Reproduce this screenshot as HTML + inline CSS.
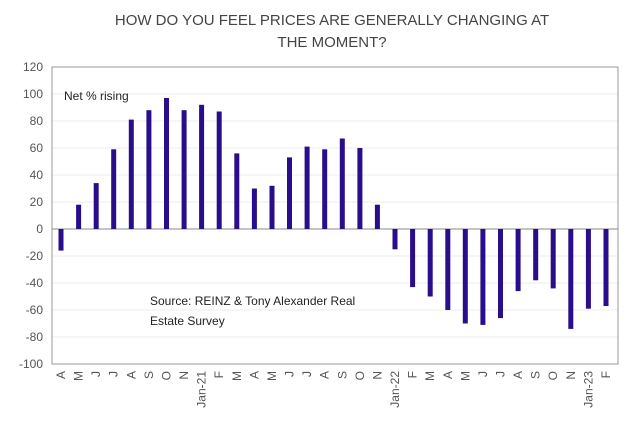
<!DOCTYPE html><html><head><style>body{margin:0;background:#fff}</style></head><body>
<svg width="641" height="427" xmlns="http://www.w3.org/2000/svg" font-family="Liberation Sans, sans-serif">
<rect x="0" y="0" width="641" height="427" fill="#fff"/>
<text x="332" y="25" font-size="15" fill="#444" text-anchor="middle">HOW DO YOU FEEL PRICES ARE GENERALLY CHANGING AT</text>
<text x="332" y="47" font-size="15" fill="#444" text-anchor="middle">THE MOMENT?</text>
<g stroke="#eee" stroke-width="1">
<line x1="52" x2="618" y1="94" y2="94"/><line x1="52" x2="618" y1="121" y2="121"/><line x1="52" x2="618" y1="148" y2="148"/><line x1="52" x2="618" y1="175" y2="175"/><line x1="52" x2="618" y1="202" y2="202"/><line x1="52" x2="618" y1="256" y2="256"/><line x1="52" x2="618" y1="283" y2="283"/><line x1="52" x2="618" y1="310" y2="310"/><line x1="52" x2="618" y1="337" y2="337"/>
</g>
<rect x="52" y="67" width="566" height="297" fill="none" stroke="#999"/>
<line x1="52" x2="618" y1="229" y2="229" stroke="#888"/>
<g font-size="12" fill="#555" text-anchor="end">
<text x="43" y="71">120</text><text x="43" y="98">100</text><text x="43" y="125">80</text><text x="43" y="152">60</text><text x="43" y="179">40</text><text x="43" y="206">20</text><text x="43" y="233">0</text><text x="43" y="260">-20</text><text x="43" y="287">-40</text><text x="43" y="314">-60</text><text x="43" y="341">-80</text><text x="43" y="368">-100</text>
</g>
<text x="64" y="100" font-size="12" fill="#222">Net % rising</text>
<text x="150" y="305" font-size="12" fill="#222">Source: REINZ &amp; Tony Alexander  Real</text>
<text x="150" y="325" font-size="12" fill="#222">Estate Survey</text>
<g fill="#2a0d8a">
<rect x="58.5" y="229" width="5" height="21.6"/>
<rect x="76.1" y="204.7" width="5" height="24.3"/>
<rect x="93.7" y="183.1" width="5" height="45.9"/>
<rect x="111.2" y="149.3" width="5" height="79.7"/>
<rect x="128.8" y="119.6" width="5" height="109.4"/>
<rect x="146.4" y="110.2" width="5" height="118.8"/>
<rect x="164" y="98" width="5" height="131"/>
<rect x="181.6" y="110.2" width="5" height="118.8"/>
<rect x="199.1" y="104.8" width="5" height="124.2"/>
<rect x="216.7" y="111.5" width="5" height="117.5"/>
<rect x="234.3" y="153.4" width="5" height="75.6"/>
<rect x="251.9" y="188.5" width="5" height="40.5"/>
<rect x="269.5" y="185.8" width="5" height="43.2"/>
<rect x="287" y="157.4" width="5" height="71.6"/>
<rect x="304.6" y="146.6" width="5" height="82.4"/>
<rect x="322.2" y="149.3" width="5" height="79.7"/>
<rect x="339.8" y="138.5" width="5" height="90.5"/>
<rect x="357.4" y="148" width="5" height="81"/>
<rect x="374.9" y="204.7" width="5" height="24.3"/>
<rect x="392.5" y="229" width="5" height="20.3"/>
<rect x="410.1" y="229" width="5" height="58.1"/>
<rect x="427.7" y="229" width="5" height="67.5"/>
<rect x="445.3" y="229" width="5" height="81"/>
<rect x="462.8" y="229" width="5" height="94.5"/>
<rect x="480.4" y="229" width="5" height="95.9"/>
<rect x="498" y="229" width="5" height="89.1"/>
<rect x="515.6" y="229" width="5" height="62.1"/>
<rect x="533.2" y="229" width="5" height="51.3"/>
<rect x="550.7" y="229" width="5" height="59.4"/>
<rect x="568.3" y="229" width="5" height="99.9"/>
<rect x="585.9" y="229" width="5" height="79.7"/>
<rect x="603.5" y="229" width="5" height="77"/>
</g>
<g font-size="12" fill="#555" text-anchor="end">
<text transform="translate(65,371) rotate(-90)">A</text>
<text transform="translate(82.6,371) rotate(-90)">M</text>
<text transform="translate(100.2,371) rotate(-90)">J</text>
<text transform="translate(117.7,371) rotate(-90)">J</text>
<text transform="translate(135.3,371) rotate(-90)">A</text>
<text transform="translate(152.9,371) rotate(-90)">S</text>
<text transform="translate(170.5,371) rotate(-90)">O</text>
<text transform="translate(188.1,371) rotate(-90)">N</text>
<text transform="translate(205.6,371) rotate(-90)">Jan-21</text>
<text transform="translate(223.2,371) rotate(-90)">F</text>
<text transform="translate(240.8,371) rotate(-90)">M</text>
<text transform="translate(258.4,371) rotate(-90)">A</text>
<text transform="translate(276,371) rotate(-90)">M</text>
<text transform="translate(293.5,371) rotate(-90)">J</text>
<text transform="translate(311.1,371) rotate(-90)">J</text>
<text transform="translate(328.7,371) rotate(-90)">A</text>
<text transform="translate(346.3,371) rotate(-90)">S</text>
<text transform="translate(363.9,371) rotate(-90)">O</text>
<text transform="translate(381.4,371) rotate(-90)">N</text>
<text transform="translate(399,371) rotate(-90)">Jan-22</text>
<text transform="translate(416.6,371) rotate(-90)">F</text>
<text transform="translate(434.2,371) rotate(-90)">M</text>
<text transform="translate(451.8,371) rotate(-90)">A</text>
<text transform="translate(469.3,371) rotate(-90)">M</text>
<text transform="translate(486.9,371) rotate(-90)">J</text>
<text transform="translate(504.5,371) rotate(-90)">J</text>
<text transform="translate(522.1,371) rotate(-90)">A</text>
<text transform="translate(539.7,371) rotate(-90)">S</text>
<text transform="translate(557.2,371) rotate(-90)">O</text>
<text transform="translate(574.8,371) rotate(-90)">N</text>
<text transform="translate(592.4,371) rotate(-90)">Jan-23</text>
<text transform="translate(610,371) rotate(-90)">F</text>
</g>
</svg></body></html>
